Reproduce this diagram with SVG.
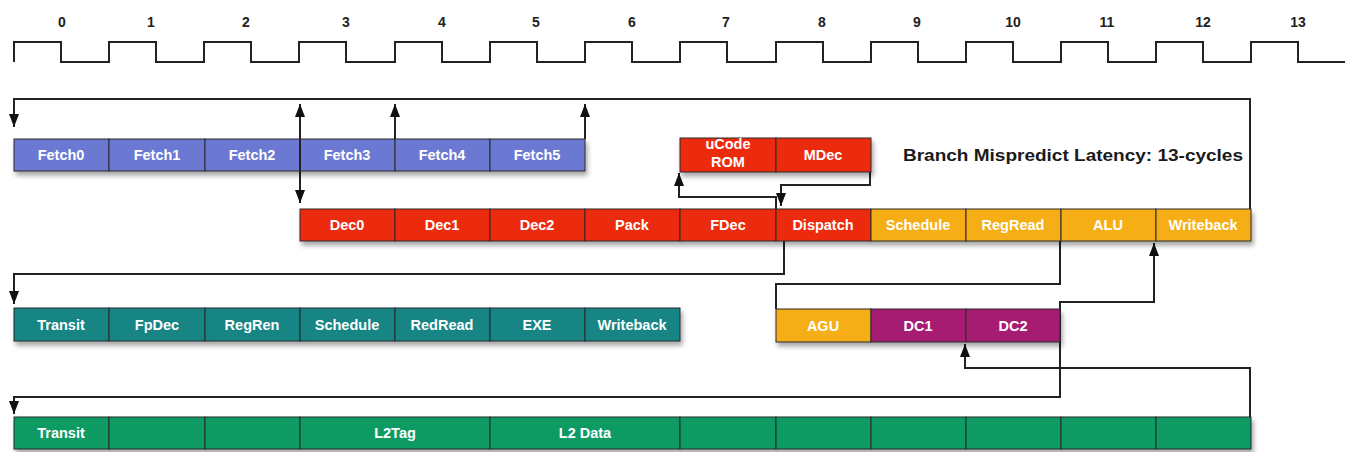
<svg xmlns="http://www.w3.org/2000/svg" width="1350" height="452" viewBox="0 0 1350 452">
<style>
  .cell { stroke: #2a2a2a; stroke-width: 1; }
  .blue { fill: #6c79d2; }
  .red { fill: #ec2a0e; }
  .orange { fill: #f6ae18; }
  .teal { fill: #148584; }
  .mag { fill: #a61b73; }
  .green { fill: #079b63; }
  .lbl { font-family: "Liberation Sans", Arial, sans-serif; font-weight: bold; font-size: 14.5px; fill: #ffffff; text-anchor: middle; }
  .num { font-family: "Liberation Sans", Arial, sans-serif; font-weight: bold; font-size: 14px; fill: #222222; text-anchor: middle; }
  .title { font-family: "Liberation Sans", Arial, sans-serif; font-weight: bold; font-size: 16px; fill: #1a1a1a; }
  .wire { fill: none; stroke: #222222; stroke-width: 2; }
  .row { filter: url(#shadow); }
</style>
<defs>
  <marker id="arr" viewBox="0 0 13 10" refX="13" refY="5" markerWidth="13" markerHeight="10" markerUnits="userSpaceOnUse" orient="auto-start-reverse">
    <path d="M0,0 L13,5 L0,10 z" fill="#111111"/>
  </marker>
  <filter id="shadow" x="-5%" y="-30%" width="110%" height="170%">
    <feDropShadow dx="2" dy="4" stdDeviation="2.5" flood-color="#000000" flood-opacity="0.35"/>
  </filter>
</defs>
<rect width="1350" height="452" fill="#ffffff"/>

<g id="clock">
  <path class="wire" d="M14,62 V42 H61 V62 H109 V42 H156 V62 H204 V42 H251 V62 H299 V42 H346 V62 H395 V42 H442 V62 H490 V42 H537 V62 H585 V42 H632 V62 H680 V42 H727 V62 H776 V42 H823 V62 H871 V42 H918 V62 H966 V42 H1013 V62 H1061 V42 H1108 V62 H1156 V42 H1203 V62 H1251 V42 H1298 V62 H1345"/>
  <text class="num" x="62" y="27">0</text>
  <text class="num" x="151" y="27">1</text>
  <text class="num" x="246" y="27">2</text>
  <text class="num" x="346" y="27">3</text>
  <text class="num" x="442" y="27">4</text>
  <text class="num" x="536" y="27">5</text>
  <text class="num" x="632" y="27">6</text>
  <text class="num" x="726" y="27">7</text>
  <text class="num" x="822" y="27">8</text>
  <text class="num" x="917" y="27">9</text>
  <text class="num" x="1013" y="27">10</text>
  <text class="num" x="1107" y="27">11</text>
  <text class="num" x="1203" y="27">12</text>
  <text class="num" x="1298" y="27">13</text>
</g>

<g id="connectors">
  <path class="wire" d="M1250,209 V99 H14 V127" marker-end="url(#arr)"/>
  <path class="wire" d="M300,203 V104" marker-start="url(#arr)" marker-end="url(#arr)"/>
  <path class="wire" d="M395,139 V104" marker-end="url(#arr)"/>
  <path class="wire" d="M585,139 V104" marker-end="url(#arr)"/>
  <path class="wire" d="M776,209 V197 H679 V173" marker-end="url(#arr)"/>
  <path class="wire" d="M870,172 V185 H781 V206" marker-end="url(#arr)"/>
  <path class="wire" d="M784,241 V274 H14 V304" marker-end="url(#arr)"/>
  <path class="wire" d="M1060,241 V284 H776 V309"/>
  <path class="wire" d="M1060,397 V302 H1154 V243" marker-end="url(#arr)"/>
  <path class="wire" d="M1060,342 V397 H14 V414" marker-end="url(#arr)"/>
  <path class="wire" d="M1250,417 V368 H965 V344" marker-end="url(#arr)"/>
</g>

<g id="fetch" class="row">
  <rect class="cell blue" x="14" y="139" width="95" height="32"/>
  <rect class="cell blue" x="109" y="139" width="96" height="32"/>
  <rect class="cell blue" x="205" y="139" width="95" height="32"/>
  <rect class="cell blue" x="300" y="139" width="95" height="32"/>
  <rect class="cell blue" x="395" y="139" width="95" height="32"/>
  <rect class="cell blue" x="490" y="139" width="95" height="32"/>
</g>
<g id="fetch-labels">
  <text class="lbl" x="61" y="160">Fetch0</text>
  <text class="lbl" x="157" y="160">Fetch1</text>
  <text class="lbl" x="252" y="160">Fetch2</text>
  <text class="lbl" x="347" y="160">Fetch3</text>
  <text class="lbl" x="442" y="160">Fetch4</text>
  <text class="lbl" x="537" y="160">Fetch5</text>
</g>
<path class="wire" d="M300,139 V171"/>

<g id="ucode" class="row">
  <rect class="cell red" x="680" y="138" width="96" height="34"/>
  <rect class="cell red" x="776" y="138" width="95" height="34"/>
</g>
<g id="ucode-labels">
  <text class="lbl" x="728" y="149">uCode</text>
  <text class="lbl" x="728" y="167">ROM</text>
  <text class="lbl" x="823" y="160">MDec</text>
</g>

<text id="latency" class="title" x="903" y="161" textLength="340" lengthAdjust="spacingAndGlyphs">Branch Mispredict Latency: 13-cycles</text>

<g id="decode" class="row">
  <rect class="cell red" x="300" y="209" width="95" height="32"/>
  <rect class="cell red" x="395" y="209" width="95" height="32"/>
  <rect class="cell red" x="490" y="209" width="95" height="32"/>
  <rect class="cell red" x="585" y="209" width="95" height="32"/>
  <rect class="cell red" x="680" y="209" width="96" height="32"/>
  <rect class="cell red" x="776" y="209" width="95" height="32"/>
  <rect class="cell orange" x="871" y="209" width="95" height="32"/>
  <rect class="cell orange" x="966" y="209" width="95" height="32"/>
  <rect class="cell orange" x="1061" y="209" width="95" height="32"/>
  <rect class="cell orange" x="1156" y="209" width="95" height="32"/>
</g>
<g id="decode-labels">
  <text class="lbl" x="347" y="230">Dec0</text>
  <text class="lbl" x="442" y="230">Dec1</text>
  <text class="lbl" x="537" y="230">Dec2</text>
  <text class="lbl" x="632" y="230">Pack</text>
  <text class="lbl" x="728" y="230">FDec</text>
  <text class="lbl" x="823" y="230">Dispatch</text>
  <text class="lbl" x="918" y="230">Schedule</text>
  <text class="lbl" x="1013" y="230">RegRead</text>
  <text class="lbl" x="1108" y="230">ALU</text>
  <text class="lbl" x="1203" y="230">Writeback</text>
</g>

<g id="fp" class="row">
  <rect class="cell teal" x="14" y="308" width="95" height="33"/>
  <rect class="cell teal" x="109" y="308" width="96" height="33"/>
  <rect class="cell teal" x="205" y="308" width="95" height="33"/>
  <rect class="cell teal" x="300" y="308" width="95" height="33"/>
  <rect class="cell teal" x="395" y="308" width="95" height="33"/>
  <rect class="cell teal" x="490" y="308" width="95" height="33"/>
  <rect class="cell teal" x="585" y="308" width="95" height="33"/>
</g>
<g id="fp-labels">
  <text class="lbl" x="61" y="330">Transit</text>
  <text class="lbl" x="157" y="330">FpDec</text>
  <text class="lbl" x="252" y="330">RegRen</text>
  <text class="lbl" x="347" y="330">Schedule</text>
  <text class="lbl" x="442" y="330">RedRead</text>
  <text class="lbl" x="537" y="330">EXE</text>
  <text class="lbl" x="632" y="330">Writeback</text>
</g>

<g id="mem" class="row">
  <rect class="cell orange" x="776" y="309" width="95" height="33"/>
  <rect class="cell mag" x="871" y="309" width="95" height="33"/>
  <rect class="cell mag" x="966" y="309" width="94" height="33"/>
</g>
<g id="mem-labels">
  <text class="lbl" x="823" y="331">AGU</text>
  <text class="lbl" x="918" y="331">DC1</text>
  <text class="lbl" x="1013" y="331">DC2</text>
</g>

<g id="l2" class="row">
  <rect class="cell green" x="14" y="417" width="95" height="32"/>
  <rect class="cell green" x="109" y="417" width="96" height="32"/>
  <rect class="cell green" x="205" y="417" width="95" height="32"/>
  <rect class="cell green" x="300" y="417" width="190" height="32"/>
  <rect class="cell green" x="490" y="417" width="190" height="32"/>
  <rect class="cell green" x="680" y="417" width="96" height="32"/>
  <rect class="cell green" x="776" y="417" width="95" height="32"/>
  <rect class="cell green" x="871" y="417" width="95" height="32"/>
  <rect class="cell green" x="966" y="417" width="95" height="32"/>
  <rect class="cell green" x="1061" y="417" width="95" height="32"/>
  <rect class="cell green" x="1156" y="417" width="95" height="32"/>
</g>
<g id="l2-labels">
  <text class="lbl" x="61" y="438">Transit</text>
  <text class="lbl" x="395" y="438">L2Tag</text>
  <text class="lbl" x="585" y="438">L2 Data</text>
</g>
</svg>
